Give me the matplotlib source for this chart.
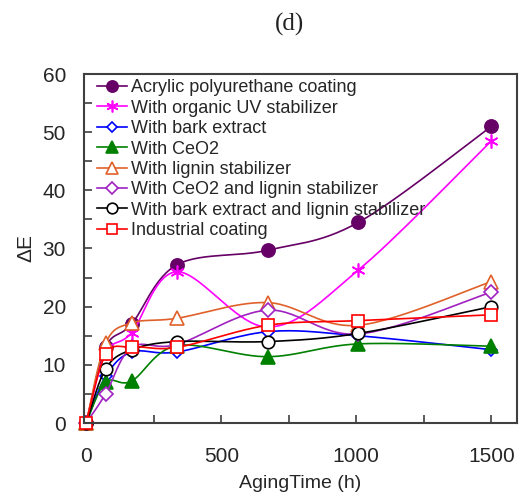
import numpy as np
import matplotlib
matplotlib.use("Agg")
import matplotlib.pyplot as plt
from matplotlib.ticker import MultipleLocator, FixedLocator

# ---- data ----
time_h = [0, 72, 168, 336, 672, 1008, 1500]
labels = [
    "Acrylic polyurethane coating",
    "With organic UV stabilizer",
    "With bark extract",
    "With CeO2",
    "With lignin stabilizer",
    "With CeO2 and lignin stabilizer",
    "With bark extract and lignin stabilizer",
    "Industrial coating",
]
acrylic = [0, 13.0, 17.0, 27.2, 29.7, 34.5, 51.0]
organic_uv = [0, 12.0, 15.5, 26.0, 16.5, 26.3, 48.5]
bark = [0, 8.0, 12.2, 12.2, 15.7, 15.0, 12.6]
ceo2 = [0, 7.0, 7.2, 13.3, 11.4, 13.6, 13.2]
lignin = [0, 13.7, 17.2, 18.0, 20.7, 16.8, 24.3]
ceo2_lignin = [0, 5.0, 13.0, 13.5, 19.4, 15.3, 22.5]
bark_lignin = [0, 9.3, 12.6, 14.0, 14.0, 15.4, 20.0]
industrial = [0, 11.8, 13.1, 13.0, 16.8, 17.6, 18.6]
series = [acrylic, organic_uv, bark, ceo2, lignin, ceo2_lignin, bark_lignin, industrial]

styles = [
    dict(color="#660066", marker="o", mfc="#660066", ms=9.5),
    dict(color="#FF00FF", marker=(6, 2, 0), mfc="#FF00FF", ms=10),
    dict(color="#0000FF", marker="D", mfc="white", ms=6.5),
    dict(color="#008000", marker="^", mfc="#008000", ms=10),
    dict(color="#E0602A", marker="^", mfc="white", ms=10),
    dict(color="#A020C0", marker="D", mfc="white", ms=7.5),
    dict(color="#000000", marker="o", mfc="white", ms=9),
    dict(color="#FF0000", marker="s", mfc="white", ms=9),
]


def smooth(xs, ys, n=30):
    xs = np.asarray(xs, float)
    ys = np.asarray(ys, float)
    P = np.column_stack([xs, ys])
    out = []
    m = len(P)
    for i in range(m - 1):
        p0 = P[max(i - 1, 0)]
        p1 = P[i]
        p2 = P[i + 1]
        p3 = P[min(i + 2, m - 1)]
        c1 = p1 + (p2 - p0) / 6.0
        c2 = p2 - (p3 - p1) / 6.0
        t = np.linspace(0, 1, n)[:, None]
        seg = ((1 - t) ** 3) * p1 + 3 * ((1 - t) ** 2) * t * c1 + 3 * (1 - t) * t ** 2 * c2 + t ** 3 * p2
        if i > 0:
            seg = seg[1:]
        out.append(seg)
    out = np.vstack(out)
    return out[:, 0], out[:, 1]


plt.rcParams["font.family"] = ["Liberation Sans", "DejaVu Sans"]
fig = plt.figure(figsize=(5.24, 4.98), dpi=100)
ax = fig.add_axes([84 / 524, 1 - 423 / 498, 433 / 524, 349 / 498])

for lab, ys, st in zip(labels, series, styles):
    sx, sy = smooth(time_h, ys)
    ax.plot(sx, sy, color=st["color"], lw=1.2, clip_on=False)
    ax.plot(time_h, ys, linestyle="none", marker=st["marker"], color=st["color"],
            mfc=st["mfc"], mec=st["color"], ms=st["ms"], mew=1.2, clip_on=False)
    ax.plot([], [], color=st["color"], lw=1.2, marker=st["marker"], mfc=st["mfc"],
            mec=st["color"], ms=st["ms"] * 0.85, mew=1.2, label=lab)

ax.set_xlim(-8, 1595)
ax.set_ylim(0, 60)
ax.xaxis.set_major_locator(FixedLocator([0, 500, 1000, 1500]))
ax.xaxis.set_minor_locator(FixedLocator([250, 750, 1250]))
ax.yaxis.set_major_locator(MultipleLocator(10))
ax.yaxis.set_minor_locator(MultipleLocator(5))
ax.tick_params(which="both", direction="in", length=6, width=1.2, color="#404040",
               top=False, right=False)
ax.tick_params(which="major", labelsize=15, labelcolor="#262626")
ax.tick_params(axis="x", which="major", pad=17)
ax.tick_params(axis="y", which="major", pad=13)
for s in ax.spines.values():
    s.set_color("#404040")
    s.set_linewidth(1.5)

ax.set_xlabel("AgingTime (h)", fontsize=14, color="#262626", labelpad=7)
ax.set_ylabel("ΔE", fontsize=15, color="#262626", labelpad=5)

fig.text(290 / 524, 1 - 24 / 498, "(d)", ha="center", va="center", fontsize=18,
         family=["Liberation Serif", "DejaVu Serif"], color="#222222")

leg = ax.legend(loc="upper left", bbox_to_anchor=(0.029, 0.985), frameon=False,
                fontsize=13, labelspacing=0.19, handlelength=1.7, handletextpad=0.2,
                borderpad=0, borderaxespad=0)
for t in leg.get_texts():
    t.set_color("#262626")

fig.savefig("out.png", dpi=100)
